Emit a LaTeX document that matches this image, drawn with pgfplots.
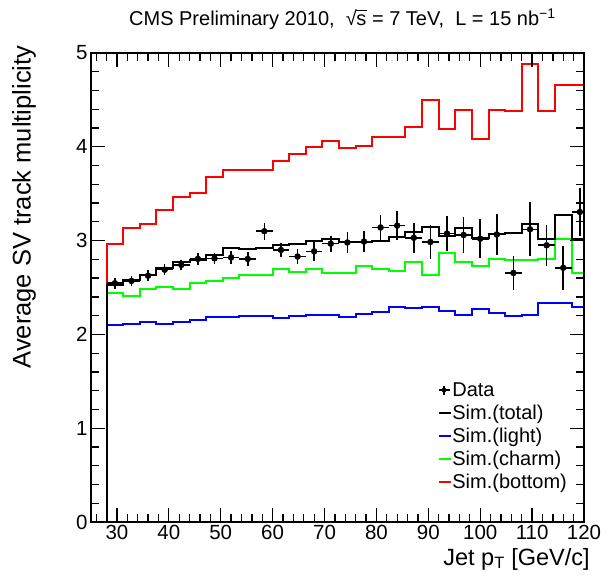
\documentclass[border=0pt]{standalone}
\usepackage{fontspec}
\setmainfont{Liberation Sans}
\usepackage{pgfplots}
\usepackage{pgfplotstable}
\pgfplotsset{compat=1.18}

% Simulated averages per jet-pT bin (left bin edge; last row closes the final bin)
\pgfplotstableread{
edge  light  charm  bottom  total
28.0  0      0      0       0
28.0  2.096  2.440  2.960   2.525
31.2  2.115  2.410  3.130   2.583
34.4  2.133  2.487  3.180   2.636
37.6  2.115  2.502  3.330   2.705
40.8  2.133  2.487  3.465   2.770
44.0  2.157  2.545  3.510   2.790
47.2  2.182  2.570  3.680   2.850
50.4  2.188  2.600  3.750   2.925
53.6  2.200  2.636  3.750   2.908
56.8  2.198  2.630  3.750   2.925
60.0  2.178  2.695  3.850   2.952
63.2  2.200  2.660  3.925   2.960
66.4  2.210  2.695  3.995   2.995
69.6  2.210  2.655  4.065   3.015
72.8  2.190  2.655  3.990   2.990
76.0  2.215  2.728  4.010   2.990
79.2  2.235  2.698  4.100   2.995
82.4  2.295  2.672  4.100   3.035
85.6  2.277  2.768  4.210   3.095
88.8  2.295  2.636  4.500   3.150
92.0  2.250  2.868  4.190   3.050
95.2  2.210  2.768  4.390   3.130
98.4  2.270  2.725  4.080   3.025
101.6 2.228  2.807  4.390   3.070
104.8 2.196  2.796  4.380   3.080
108.0 2.210  2.796  4.886   3.175
111.2 2.340  2.807  4.380   3.020
114.4 2.340  3.017  4.655   3.276
117.6 2.290  2.655  4.655   3.020
120.8 2.290  2.655  4.655   3.020
}\simtable

% Measured averages (bin centre, value, half bin width, statistical error)
\pgfplotstableread{
x      y      ex   ey
29.6   2.545  1.6  0.020
32.8   2.570  1.6  0.020
36.0   2.626  1.6  0.020
39.2   2.690  1.6  0.020
42.4   2.740  1.6  0.020
45.6   2.805  1.6  0.025
48.8   2.810  1.6  0.025
52.0   2.820  1.6  0.030
55.2   2.805  1.6  0.040
58.4   3.100  1.6  0.055
61.6   2.900  1.6  0.035
64.8   2.830  1.6  0.045
68.0   2.885  1.6  0.060
71.2   2.967  1.6  0.050
74.4   2.980  1.6  0.075
77.6   2.990  1.6  0.075
80.8   3.140  1.6  0.095
84.0   3.160  1.6  0.120
87.2   3.030  1.6  0.120
90.4   2.985  1.6  0.140
93.6   3.075  1.6  0.150
96.8   3.060  1.6  0.150
100.0  3.020  1.6  0.170
103.2  3.065  1.6  0.180
106.4  2.655  1.6  0.140
109.6  3.120  1.6  0.250
112.8  2.950  1.6  0.180
116.0  2.710  1.6  0.200
119.2  3.305  1.6  0.220
}\datatable

\pgfplotsset{
  short line/.style={legend image code/.code={
    \draw[##1, line width=1.6pt] (0pt,0pt) -- (12pt,0pt);}},
  data cross/.style={legend image code/.code={
    \draw[black, line width=1.5pt] (0pt,0pt) -- (11pt,0pt) (5pt,-4.5pt) -- (5pt,4.5pt);
    \fill[black] (5pt,0pt) circle (2.2pt);}},
}

% square root of s, set in the text font with a bar over the s
\newcommand{\sqrts}{√\kern-0.02em\rlap{\rule[0.74em]{0.52em}{0.055em}}s}

\begin{document}
\begin{tikzpicture}
\begin{axis}[
  name=ax,
  scale only axis,
  width=493pt, height=469pt,
  xmin=25, xmax=120, ymin=0, ymax=5,
  xtick={30,40,...,120},
  ytick={0,1,2,3,4,5},
  minor xtick={26,28,...,118},
  minor ytick={0.2,0.4,0.6,0.8,1.2,1.4,1.6,1.8,2.2,2.4,2.6,2.8,3.2,3.4,3.6,3.8,4.2,4.4,4.6,4.8},
  tick align=inside,
  major tick length=14pt,
  minor tick length=8pt,
  axis line style={line width=1.6pt},
  every tick/.style={black, line width=1.3pt},
  tick label style={font=\fontsize{20.5}{24}\selectfont},
  /pgf/number format/assume math mode=true,
  axis on top,
  xlabel={Jet p\textsubscript{T} [GeV/c]},
  ylabel={Average SV track multiplicity},
  xlabel style={at={(axis description cs:1.012,-0.055)}, anchor=north east,
    inner sep=0pt, font=\fontsize{23.5}{27}\selectfont},
  ylabel style={at={(axis description cs:-0.136,1.016)}, anchor=east,
    inner sep=0pt, font=\fontsize{25.5}{29}\selectfont},
  title={CMS Preliminary 2010,\ \ \sqrts\ = 7 TeV,\ \ L = 15 nb\textsuperscript{−1}},
  title style={at={(axis description cs:0.51,1)}, anchor=base, yshift=21pt,
    inner sep=0pt, font=\fontsize{20}{22}\selectfont},
  legend style={draw=none, fill=none, at={(axis description cs:0.704,0.299)},
    anchor=north west, font=\fontsize{20}{23}\selectfont,
    inner sep=0pt, row sep=6pt, nodes={inner sep=0.5pt}},
  legend cell align=left,
]
  \addplot[blue, line width=2pt, const plot mark left, forget plot]
    table[x=edge, y=light] {\simtable};
  \addplot[green, line width=2pt, const plot mark left, forget plot]
    table[x=edge, y=charm] {\simtable};
  \addplot[red, line width=2pt, const plot mark left, forget plot]
    table[x=edge, y=bottom] {\simtable};
  \addplot[black, line width=2pt, const plot mark left, forget plot]
    table[x=edge, y=total] {\simtable};

  % horizontal bars: bin widths
  \addplot[black, only marks, mark=none, forget plot,
    error bars/.cd, x dir=both, x explicit, error mark=none,
    error bar style={line width=1.6pt}]
    table[x=x, y=y, x error=ex] {\datatable};
  % vertical bars with caps and the data markers
  \addplot[black, only marks, mark=*, mark size=3pt, forget plot,
    error bars/.cd, y dir=both, y explicit,
    error bar style={line width=1.6pt},
    error mark options={line width=1.6pt, mark size=3.5pt, black}]
    table[x=x, y=y, y error=ey] {\datatable};

  \addlegendimage{data cross}
  \addlegendentry{Data}
  \addlegendimage{black, short line}
  \addlegendentry{Sim.(total)}
  \addlegendimage{blue, short line}
  \addlegendentry{Sim.(light)}
  \addlegendimage{green, short line}
  \addlegendentry{Sim.(charm)}
  \addlegendimage{red, short line}
  \addlegendentry{Sim.(bottom)}
\end{axis}
\path ([xshift=-91pt,yshift=-57pt]ax.south west) rectangle ([xshift=23pt,yshift=53pt]ax.north east);
\end{tikzpicture}
\end{document}
